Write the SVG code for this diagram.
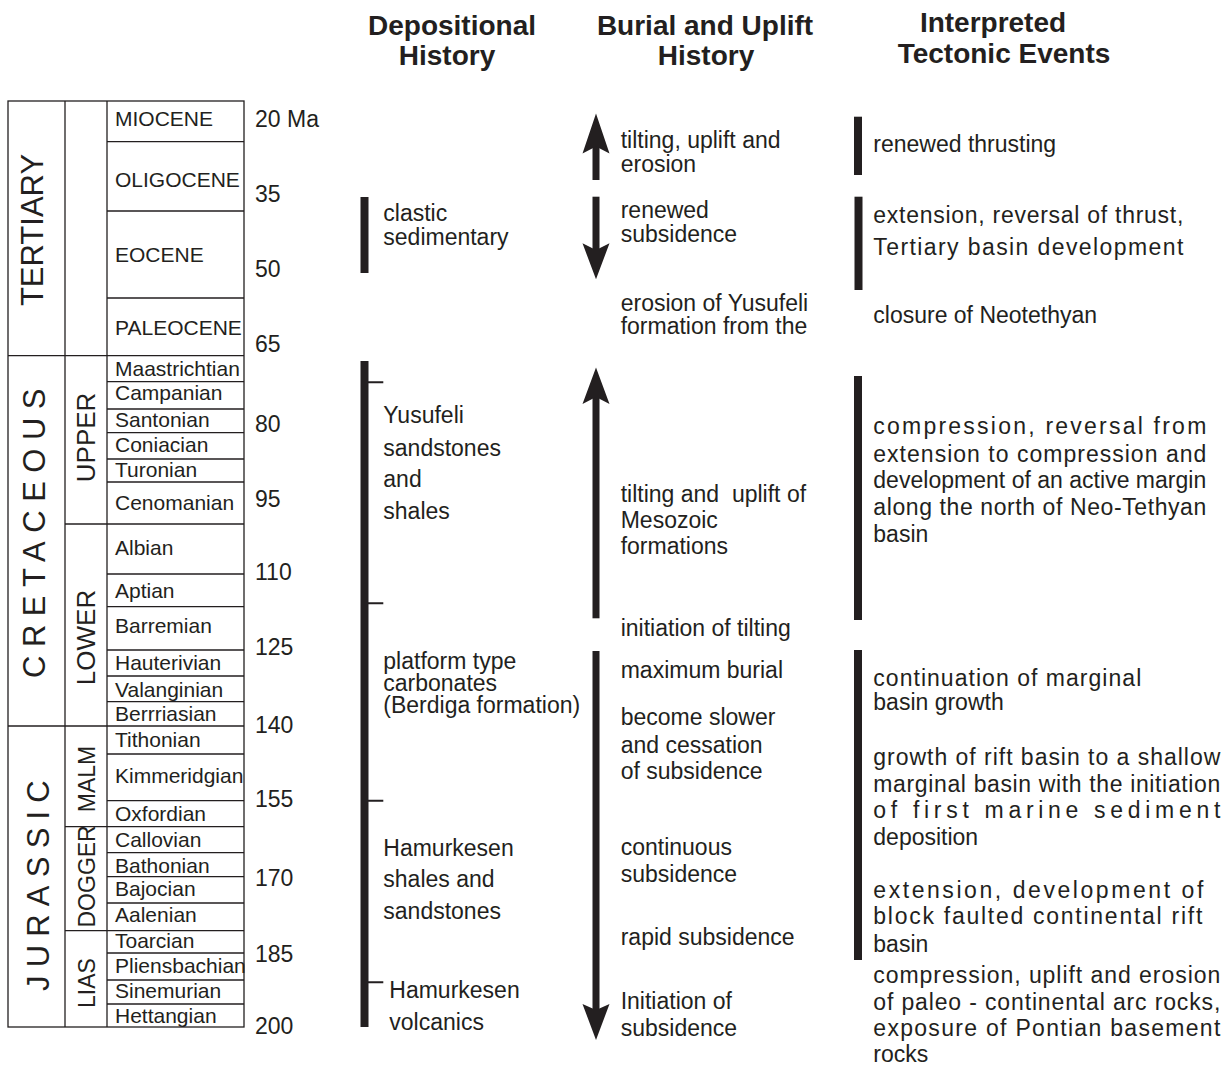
<svg xmlns="http://www.w3.org/2000/svg" width="1231" height="1084" viewBox="0 0 1231 1084">
<style>
text{font-family:"Liberation Sans",Arial,sans-serif;fill:#231f20}
.tb{font-size:21px}
.num{font-size:23px}
.tx{font-size:23px}
.hd{font-size:28px;font-weight:bold;text-anchor:middle}
.big{font-size:31px}
.mid{font-size:26px;text-anchor:middle}
.sm{font-size:23px;text-anchor:middle}
.ln{stroke:#231f20;stroke-width:1.3;fill:none}
.bar{fill:#231f20}
.tick{stroke:#231f20;stroke-width:2}
</style>
<rect width="1231" height="1084" fill="#fff"/>

<g id="headers">
<text class="hd" x="452" y="35">Depositional</text>
<text class="hd" x="447" y="65">History</text>
<text class="hd" x="705" y="35">Burial and Uplift</text>
<text class="hd" x="706" y="65">History</text>
<text class="hd" x="993" y="32">Interpreted</text>
<text class="hd" x="1004" y="63">Tectonic Events</text>
</g>

<g id="timescale">
<rect class="ln" x="8" y="101" width="236" height="926"/>
<line class="ln" x1="65" y1="101" x2="65" y2="1027"/>
<line class="ln" x1="107" y1="101" x2="107" y2="1027"/>
<line class="ln" x1="8" y1="355.7" x2="244" y2="355.7"/>
<line class="ln" x1="8" y1="726" x2="244" y2="726"/>
<line class="ln" x1="65" y1="524" x2="244" y2="524"/>
<line class="ln" x1="65" y1="826.7" x2="244" y2="826.7"/>
<line class="ln" x1="65" y1="930.7" x2="244" y2="930.7"/>
<path class="ln" d="M107 141.7H244M107 211H244M107 298H244M107 381.7H244M107 409H244M107 432.7H244M107 459H244M107 482H244M107 574H244M107 606.7H244M107 650H244M107 676H244M107 701.7H244M107 754H244M107 800.7H244M107 852.7H244M107 876.7H244M107 903H244M107 953H244M107 980H244M107 1004H244"/>

<text class="big" transform="translate(43,230) rotate(-90)" text-anchor="middle">TERTIARY</text>
<text class="big" transform="translate(45,678) rotate(-90)" letter-spacing="8.5">CRETACEOUS</text>
<text class="big" transform="translate(49,991) rotate(-90)" letter-spacing="8.2">JURASSIC</text>

<text class="mid" transform="translate(95,437.4) rotate(-90)">UPPER</text>
<text class="mid" transform="translate(95,637.5) rotate(-90)">LOWER</text>
<text class="sm" transform="translate(95,779) rotate(-90)">MALM</text>
<text class="sm" transform="translate(95,876.4) rotate(-90)">DOGGER</text>
<text class="sm" transform="translate(95,983) rotate(-90)">LIAS</text>

<g class="tb">
<text x="115" y="126">MIOCENE</text>
<text x="115" y="186.7">OLIGOCENE</text>
<text x="115" y="261.7">EOCENE</text>
<text x="115" y="335">PALEOCENE</text>
<text x="115" y="376">Maastrichtian</text>
<text x="115" y="400">Campanian</text>
<text x="115" y="427.3">Santonian</text>
<text x="115" y="451.7">Coniacian</text>
<text x="115" y="476.7">Turonian</text>
<text x="115" y="510">Cenomanian</text>
<text x="115" y="555">Albian</text>
<text x="115" y="597.7">Aptian</text>
<text x="115" y="633.3">Barremian</text>
<text x="115" y="670">Hauterivian</text>
<text x="115" y="696.7">Valanginian</text>
<text x="115" y="721">Berrriasian</text>
<text x="115" y="746.7">Tithonian</text>
<text x="115" y="783.3">Kimmeridgian</text>
<text x="115" y="820.7">Oxfordian</text>
<text x="115" y="846.7">Callovian</text>
<text x="115" y="872.7">Bathonian</text>
<text x="115" y="896">Bajocian</text>
<text x="115" y="922.3">Aalenian</text>
<text x="115" y="948.3">Toarcian</text>
<text x="115" y="973.3">Pliensbachian</text>
<text x="115" y="997.7">Sinemurian</text>
<text x="115" y="1023.3">Hettangian</text>
</g>

<g class="num">
<text x="255" y="127">20 Ma</text>
<text x="255" y="202">35</text>
<text x="255" y="277">50</text>
<text x="255" y="352">65</text>
<text x="255" y="431.7">80</text>
<text x="255" y="507">95</text>
<text x="255" y="580">110</text>
<text x="255" y="655">125</text>
<text x="255" y="733">140</text>
<text x="255" y="807">155</text>
<text x="255" y="885.7">170</text>
<text x="255" y="961.7">185</text>
<text x="255" y="1034">200</text>
</g>
</g>

<g id="depositional">
<rect class="bar" x="360.5" y="197" width="8" height="76"/>
<text class="tx" x="383.3" y="220.5">clastic</text>
<text class="tx" x="383.3" y="245">sedimentary</text>
<rect class="bar" x="360.5" y="361" width="8" height="666"/>
<path class="tick" d="M368 382.3H383.3M368 603.3H383.3M368 800.7H383.3M368 982.3H383.3"/>
<text class="tx" x="383.3" y="423.3">Yusufeli</text>
<text class="tx" x="383.3" y="456">sandstones</text>
<text class="tx" x="383.3" y="487.3">and</text>
<text class="tx" x="383.3" y="519.3">shales</text>
<text class="tx" x="383.3" y="668.5">platform type</text>
<text class="tx" x="383.3" y="690.5">carbonates</text>
<text class="tx" x="383.3" y="712.5">(Berdiga formation)</text>
<text class="tx" x="383.3" y="856">Hamurkesen</text>
<text class="tx" x="383.3" y="886.7">shales and</text>
<text class="tx" x="383.3" y="919.3">sandstones</text>
<text class="tx" x="389.3" y="998.3">Hamurkesen</text>
<text class="tx" x="389.3" y="1030">volcanics</text>
</g>

<g id="connectors">
<rect class="bar" x="592.5" y="145" width="7" height="35"/>
<polygon class="bar" points="596,113.5 609.5,153.5 596,146.5 582.5,153.5"/>
<rect class="bar" x="592.5" y="196.7" width="7" height="54"/>
<polygon class="bar" points="596,279.3 609.5,243.3 596,250 582.5,243.3"/>
<rect class="bar" x="592.5" y="396" width="7" height="222.3"/>
<polygon class="bar" points="596,367.5 609.5,404 596,397 582.5,404"/>
<rect class="bar" x="592.5" y="651" width="7" height="360"/>
<polygon class="bar" points="596,1040 609.5,1004 596,1010 582.5,1004"/>
</g>

<g id="burial">
<text class="tx" x="620.7" y="147.5">tilting, uplift and</text>
<text class="tx" x="620.7" y="171.7">erosion</text>
<text class="tx" x="620.7" y="218.3">renewed</text>
<text class="tx" x="620.7" y="241.7">subsidence</text>
<text class="tx" x="620.7" y="311">erosion of Yusufeli</text>
<text class="tx" x="620.7" y="334">formation from the</text>
<text class="tx" x="620.7" y="501.7" xml:space="preserve">tilting and  uplift of</text>
<text class="tx" x="620.7" y="528.3">Mesozoic</text>
<text class="tx" x="620.7" y="554">formations</text>
<text class="tx" x="620.7" y="636">initiation of tilting</text>
<text class="tx" x="620.7" y="678.3">maximum burial</text>
<text class="tx" x="620.7" y="725">become slower</text>
<text class="tx" x="620.7" y="752.7">and cessation</text>
<text class="tx" x="620.7" y="779.3">of subsidence</text>
<text class="tx" x="620.7" y="855">continuous</text>
<text class="tx" x="620.7" y="881.7">subsidence</text>
<text class="tx" x="620.7" y="945">rapid subsidence</text>
<text class="tx" x="620.7" y="1009.3">Initiation of</text>
<text class="tx" x="620.7" y="1036">subsidence</text>
</g>

<g id="tectonic">
<rect class="bar" x="854" y="116.7" width="8" height="58.3"/>
<rect class="bar" x="854.5" y="196.7" width="8" height="93.3"/>
<rect class="bar" x="854" y="376" width="8" height="244"/>
<rect class="bar" x="854" y="650" width="8" height="310"/>
<text class="tx" x="873.3" y="151.7">renewed thrusting</text>
<text class="tx" x="873.3" y="222.7" textLength="310" lengthAdjust="spacing">extension, reversal of thrust,</text>
<text class="tx" x="873.3" y="255" textLength="310" lengthAdjust="spacing">Tertiary basin development</text>
<text class="tx" x="873.3" y="323.3">closure of Neotethyan</text>
<text class="tx" x="873.3" y="434" textLength="333" lengthAdjust="spacing">compression, reversal from</text>
<text class="tx" x="873.3" y="461.7" textLength="333" lengthAdjust="spacing">extension to compression and</text>
<text class="tx" x="873.3" y="488.3" textLength="333" lengthAdjust="spacing">development of an active margin</text>
<text class="tx" x="873.3" y="515" textLength="333" lengthAdjust="spacing">along the north of Neo-Tethyan</text>
<text class="tx" x="873.3" y="541.7">basin</text>
<text class="tx" x="873.3" y="686" textLength="268" lengthAdjust="spacing">continuation of marginal</text>
<text class="tx" x="873.3" y="710">basin growth</text>
<text class="tx" x="873.3" y="765" textLength="347" lengthAdjust="spacing">growth of rift basin to a shallow</text>
<text class="tx" x="873.3" y="791.7" textLength="347" lengthAdjust="spacing">marginal basin with the initiation</text>
<text class="tx" x="873.3" y="818.3" textLength="347" lengthAdjust="spacing">of first marine sediment</text>
<text class="tx" x="873.3" y="845">deposition</text>
<text class="tx" x="873.3" y="898.3" textLength="330" lengthAdjust="spacing">extension, development of</text>
<text class="tx" x="873.3" y="924.3" textLength="329" lengthAdjust="spacing">block faulted continental rift</text>
<text class="tx" x="873.3" y="951.7">basin</text>
<text class="tx" x="873.3" y="983.3" textLength="347" lengthAdjust="spacing">compression, uplift and erosion</text>
<text class="tx" x="873.3" y="1010" textLength="347" lengthAdjust="spacing">of paleo - continental arc rocks,</text>
<text class="tx" x="873.3" y="1036" textLength="347" lengthAdjust="spacing">exposure of Pontian basement</text>
<text class="tx" x="873.3" y="1061.7">rocks</text>
</g>
</svg>
